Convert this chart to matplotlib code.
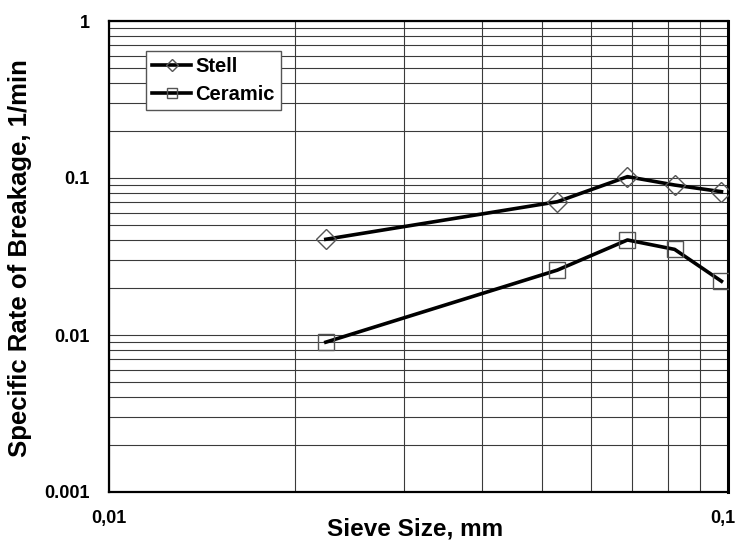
import matplotlib
matplotlib.use("Agg")
import matplotlib.pyplot as plt
from matplotlib.ticker import FixedLocator, FixedFormatter, LogLocator, NullFormatter
from matplotlib.transforms import ScaledTranslation

plt.rcParams['font.family'] = ['Liberation Sans', 'DejaVu Sans']

# Data
sieve_size = [0.0224, 0.053, 0.0688, 0.082, 0.0976]
stell_rate = [0.0407, 0.0706, 0.102, 0.0902, 0.0818]
ceramic_rate = [0.0090, 0.0259, 0.0403, 0.0351, 0.0220]
series_names = ["Stell", "Ceramic"]
x_ticks = [0.01, 0.1]
x_tick_labels = ["0,01", "0,1"]
y_ticks = [0.001, 0.01, 0.1, 1]
y_tick_labels = ["0.001", "0.01", "0.1", "1"]

fig = plt.figure(figsize=(7.38, 5.42), dpi=100)
ax = fig.add_axes([109/738, 50/542, 619/738, 471/542])
ax.set_xscale('log')
ax.set_yscale('log')
ax.set_xlim(0.01, 0.1)
ax.set_ylim(0.001, 1)

ax.plot(sieve_size, stell_rate, color='black', lw=2.6, marker='D', ms=10,
        mfc='none', mec='#555555', mew=1.0, label=series_names[0], zorder=3)
ax.plot(sieve_size, ceramic_rate, color='black', lw=2.6, marker='s', ms=12,
        mfc='none', mec='#555555', mew=1.0, label=series_names[1], zorder=3)

ax.xaxis.set_major_locator(FixedLocator(x_ticks))
ax.xaxis.set_major_formatter(FixedFormatter(x_tick_labels))
ax.yaxis.set_major_locator(FixedLocator(y_ticks))
ax.yaxis.set_major_formatter(FixedFormatter(y_tick_labels))
ax.xaxis.set_minor_locator(LogLocator(base=10, subs=range(2, 10)))
ax.yaxis.set_minor_locator(LogLocator(base=10, subs=range(2, 10)))
ax.xaxis.set_minor_formatter(NullFormatter())
ax.yaxis.set_minor_formatter(NullFormatter())

ax.grid(True, which='both', color='#3a3a3a', lw=0.8)
ax.set_axisbelow(True)
ax.tick_params(which='both', length=0)
ax.tick_params(axis='x', pad=13, labelsize=13)
ax.tick_params(axis='y', pad=14, labelsize=13)
for lab in ax.get_xticklabels() + ax.get_yticklabels():
    lab.set_fontweight('bold')

# keep the right-most x tick label inside the figure, as in the reference
last = ax.get_xticklabels()[-1]
last.set_transform(last.get_transform() + ScaledTranslation(-5/100, 0, fig.dpi_scale_trans))

for s in ax.spines.values():
    s.set_linewidth(1.6)
    s.set_color('black')
ax.spines['right'].set_linewidth(2.2)

ax.set_xlabel("Sieve Size, mm", fontsize=17.5, fontweight='bold')
ax.xaxis.set_label_coords(0.494, -0.055)
ax.set_ylabel("Specific Rate of Breakage, 1/min", fontsize=18.5, fontweight='bold')
ax.yaxis.set_label_coords(-0.124, 0.497)

leg = ax.legend(loc='upper left', bbox_to_anchor=(37/619, 441/471), borderaxespad=0,
                fancybox=False, framealpha=1, edgecolor='#555555',
                prop={'weight': 'bold', 'size': 14.5}, handlelength=1.95,
                handletextpad=0.2, labelspacing=0.45, borderpad=0.3, markerscale=0.6)
leg.get_frame().set_linewidth(1.0)

fig.savefig("out.png", dpi=100)
